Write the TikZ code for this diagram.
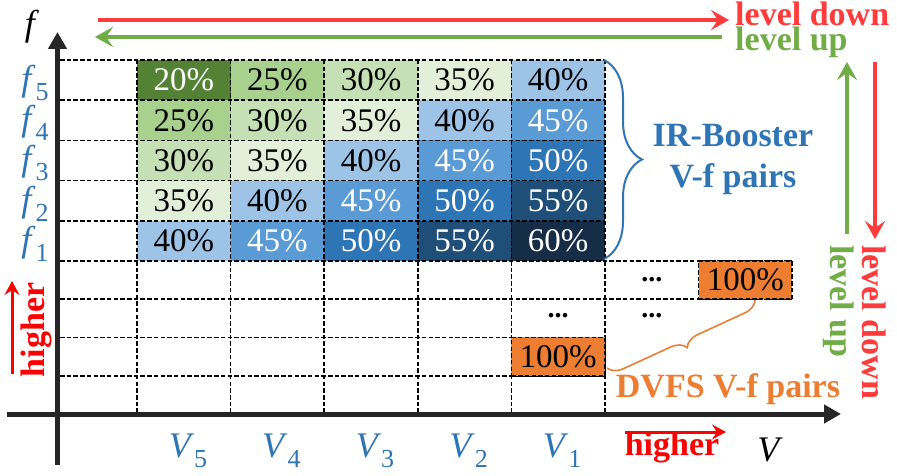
\documentclass[tikz,border=0pt]{standalone}
\usepackage{fontspec}
\setmainfont{Liberation Serif}
\usetikzlibrary{arrows.meta,decorations.pathreplacing}
\definecolor{c0}{HTML}{548235}
\definecolor{c1}{HTML}{A9D18E}
\definecolor{c2}{HTML}{C5E0B4}
\definecolor{c3}{HTML}{E2F0D9}
\definecolor{c4}{HTML}{9DC3E6}
\definecolor{c5}{HTML}{5B9BD5}
\definecolor{c6}{HTML}{2E75B6}
\definecolor{c7}{HTML}{1F4E79}
\definecolor{c8}{HTML}{162D48}
\colorlet{t0}{white}\colorlet{t1}{black}\colorlet{t2}{black}\colorlet{t3}{black}\colorlet{t4}{black}
\colorlet{t5}{white}\colorlet{t6}{white}\colorlet{t7}{white}\colorlet{t8}{white}
\definecolor{myblue}{HTML}{2E75B6}
\definecolor{mygreen}{HTML}{70AD47}
\definecolor{myorange}{HTML}{ED7D31}
\definecolor{myred}{HTML}{FF3B3B}
\definecolor{hired}{HTML}{FF0000}
\definecolor{axiscol}{HTML}{262626}
\newcommand\varsub[2]{\textit{#1}\raisebox{-0.28em}{\fontsize{26}{30}\selectfont #2}}
\tikzset{
  cell/.style={minimum width=93.6pt,minimum height=40.2pt,inner sep=0pt,outer sep=0pt,font=\fontsize{33}{38}\selectfont},
  ocell/.style={fill=myorange,draw=black,dash pattern=on 4.5pt off 2.2pt,line width=1.6pt,minimum width=93.6pt,minimum height=38.25pt,inner sep=0pt,outer sep=0pt,font=\fontsize{33}{38}\selectfont},
  gridline/.style={draw=black,dash pattern=on 4.5pt off 2.2pt,line width=1.6pt},
  axisline/.style={draw=axiscol,line width=5pt,-{Triangle[length=17pt,width=18pt]}},
  bigarrow/.style={line width=4pt,-{Stealth[length=18pt,width=20pt,inset=7pt]}},
  smallarrow/.style={line width=3pt,-{Stealth[length=14pt,width=15pt,inset=5pt]}},
  lbl/.style={inner sep=0pt,font=\fontsize{34}{40}\selectfont\bfseries},
  mlbl/.style={inner sep=0pt,font=\fontsize{36}{40}\selectfont},
  dots/.style={inner sep=0pt,font=\fontsize{28}{30}\selectfont\bfseries}
}
\begin{document}
\begin{tikzpicture}[x=1pt,y=-1pt]
\useasboundingbox (0,0) rectangle (897,476);
% IR-Booster cells
\foreach \r in {1,...,5}{
  \foreach \c in {1,...,5}{
    \pgfmathtruncatemacro\k{\r+\c-2}
    \pgfmathtruncatemacro\v{20+5*\k}
    \pgfmathsetmacro\xx{137+93.6*(\c-0.5)}
    \pgfmathsetmacro\yy{60+40.2*(\r-0.5)}
    \node[cell,fill=c\k,text=t\k] (p\r\c) at (\xx,\yy) {\v\%};
  }
}
% grid lines
\foreach \y in {60,100.2,140.4,180.6,220.8,337.5,375.75}{
  \draw[gridline] (60,\y) -- (605,\y);
}
\draw[gridline] (60,261) -- (792.2,261);
\draw[gridline] (60,299.25) -- (792.2,299.25);
\foreach \x in {137,230.6,324.2,417.8,511.4,605}{
  \draw[gridline] (\x,60) -- (\x,414);
}
% DVFS cells
\node[ocell] (o1) at (558.2,356.6) {100\%};
\node[ocell] (o2) at (745.4,280.1) {100\%};
\node[dots] (d1) at (651.8,280) {...};
\node[dots] (d2) at (558.2,316) {...};
\node[dots] (d3) at (651.8,316) {...};
% axes
\coordinate (yb) at (57.5,465);
\coordinate (yt) at (57.5,32);
\coordinate (xl) at (7,414);
\coordinate (xr) at (841,414);
\draw[axisline] (xl) -- (xr);
\draw[axisline] (yb) -- (yt);
% axis labels
\node[mlbl] (fl) at (32,27) {\textit{f}};
\foreach \i/\y in {5/83,4/123,3/163,2/204,1/244}{
  \node[mlbl,text=myblue] (f\i) at (35,\y) {\varsub{f}{\i}};
}
\foreach \i/\x in {5/188,4/281.4,3/375,2/468.6,1/562.2}{
  \node[mlbl,text=myblue] (v\i) at (\x,451) {\varsub{V}{\i}};
}
\node[mlbl] (vl) at (770,450) {\textit{V}};
% top arrows
\coordinate (rd1) at (98,20);
\coordinate (rd2) at (729,20);
\coordinate (gu1) at (722,37);
\coordinate (gu2) at (95,37);
\draw[bigarrow,draw=myred,fill=myred] (rd1) -- (rd2);
\draw[bigarrow,draw=mygreen,fill=mygreen] (gu1) -- (gu2);
\node[lbl,text=myred,anchor=base west] (ld) at (735,26) {level down};
\node[lbl,text=mygreen,anchor=base west] (lu) at (735,51) {level up};
% right arrows
\coordinate (gv1) at (847,234);
\coordinate (gv2) at (847,62);
\coordinate (rv1) at (875,62);
\coordinate (rv2) at (875,239);
\draw[bigarrow,draw=mygreen,fill=mygreen] (gv1) -- (gv2);
\draw[bigarrow,draw=myred,fill=myred] (rv1) -- (rv2);
\node[lbl,text=mygreen,rotate=-90,anchor=base west] (luv) at (830,245) {level up};
\node[lbl,text=myred,rotate=-90,anchor=base west] (ldv) at (862,245) {level down};
% IR-Booster brace
\coordinate (bt) at (604,60);
\coordinate (bb) at (604,259);
\draw[myblue,line width=2pt,decorate,decoration={brace,amplitude=38pt}] (bt) -- (bb);
\node[lbl,text=myblue,anchor=base] (irb) at (733,147) {IR-Booster};
\node[lbl,text=myblue,anchor=base] (irp) at (733,187) {V-f pairs};
% DVFS brace
\coordinate (ob) at (755,300);
\coordinate (oa) at (607,368);
\draw[myorange,line width=1.6pt,decorate,decoration={brace,amplitude=15pt}] (ob) -- (oa);
\node[lbl,text=myorange,anchor=base] (dvfs) at (728,397) {DVFS V-f pairs};
% higher labels
\coordinate (bh1) at (625,432);
\coordinate (bh2) at (726,432);
\draw[smallarrow,draw=hired,fill=hired] (bh1) -- (bh2);
\node[lbl,text=hired,anchor=base] (hb) at (672,455) {higher};
\coordinate (lh1) at (12,374);
\coordinate (lh2) at (12,281);
\draw[smallarrow,draw=hired,fill=hired] (lh1) -- (lh2);
\node[lbl,text=hired,rotate=90,anchor=base] (hl) at (44,330) {higher};
\end{tikzpicture}
\end{document}
